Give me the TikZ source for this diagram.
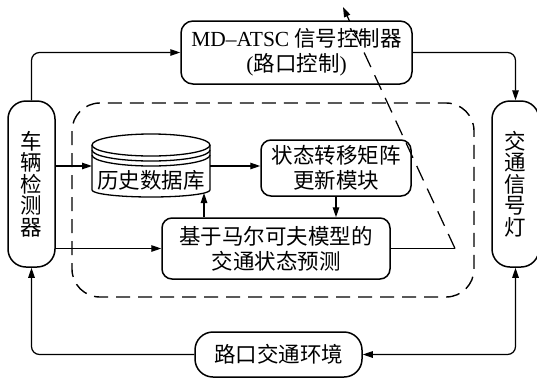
\documentclass[tikz,border=0pt]{standalone}
\usepackage{fontspec}
\setmainfont{Liberation Serif}
\newfontfamily\cjk{Noto Sans CJK SC}
\usetikzlibrary{arrows.meta}
\begin{document}
\begin{tikzpicture}[x=1pt,y=-1pt,
  box/.style={draw, line width=1.5pt, rounded corners=10pt, align=center, inner sep=0pt,
    font=\fontsize{21.5}{25}\selectfont\cjk},
  vbox/.style={box, rounded corners=18pt, minimum width=47pt, minimum height=166pt,
    font=\fontsize{21.5}{21.5}\selectfont\cjk},
  conn/.style={line width=1.25pt},
  arr/.style={conn, -{Triangle[length=10pt,width=6.5pt]}},
  arrboth/.style={conn, {Triangle[length=10pt,width=6.5pt]}-{Triangle[length=10pt,width=6.5pt]}},
  dashrect/.style={line width=1.4pt, dash pattern=on 14pt off 8pt, rounded corners=28pt},
  dashdiag/.style={dash pattern=on 16pt off 9pt},
  cyl/.style={line width=1.3pt}]
\useasboundingbox (0,0) rectangle (537,378);

% dashed region
\draw[dashrect] (72,103) rectangle (474,297);

% nodes
\node[box, rounded corners=12pt, minimum width=231pt, minimum height=63pt] (md) at (296.5,52.5)
  {{\rmfamily MD–ATSC} 信号控制器\\{\rmfamily(}路口控制{\rmfamily)}};
\node[vbox] (det) at (31.5,184) {车\\辆\\检\\测\\器};
\node[vbox] (light) at (515.5,184) {交\\通\\信\\号\\灯};
\node[box, minimum width=150pt, minimum height=56pt] (st) at (336,168) {状态转移矩阵\\更新模块};
\node[box, minimum width=228pt, minimum height=61pt] (mk) at (276,248.5) {基于马尔可夫模型的\\交通状态预测};
\node[box, rounded corners=18pt, minimum width=167pt, minimum height=45pt] (env) at (278.5,354.5) {路口交通环境};

% database cylinder
\draw[cyl] (151,145) ellipse [x radius=59pt, y radius=11pt];
\draw[cyl] (92,150) arc[start angle=180, end angle=360, x radius=59pt, y radius=11pt];
\draw[cyl] (92,155) arc[start angle=180, end angle=360, x radius=59pt, y radius=11pt];
\draw[cyl] (92,145) -- (92,190) arc[start angle=180, end angle=360, x radius=59pt, y radius=7pt] -- (210,145);
\node[font=\fontsize{21.5}{25}\selectfont\cjk, inner sep=0pt] (db) at (151,180) {历史数据库};
\coordinate (dbw) at (92,166);
\coordinate (dbe) at (210,166);
\coordinate (dbb) at (204,193);

% connectors
\draw[arr, rounded corners=8pt] (det.north) |- (md.west);
\draw[arr, rounded corners=8pt] (md.east) -| (light.north);
\draw[arr] (dbw -| det.east) -- (dbw);
\draw[arr] (dbe) -- (dbe -| st.west);
\draw[arr] (st.south) -- (st.south |- mk.north);
\draw[arr] (mk.north -| dbb) -- (dbb);
\draw[arr] (mk.west -| det.east) -- (mk.west);
\coordinate (bend) at (455,248.5);
\coordinate (tip) at (343,7);
\draw[conn] (mk.east) -- (bend);
\draw[arr, dashdiag] (bend) -- (tip);
\draw[arr, rounded corners=8pt] (env.west) -| (det.south);
\draw[arrboth, rounded corners=8pt] (light.south) |- (env.east);
\end{tikzpicture}
\end{document}
